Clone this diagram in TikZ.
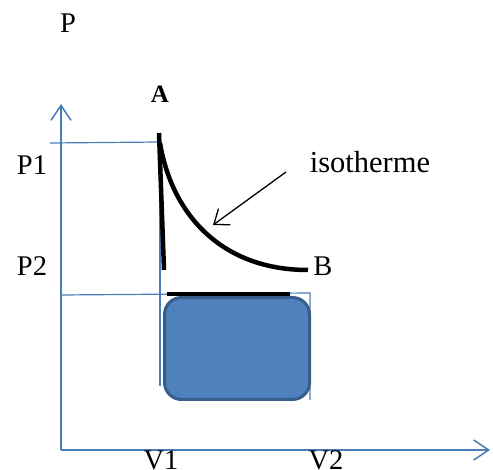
\documentclass[tikz,border=0pt]{standalone}
\usepackage{fontspec}
\setmainfont{Liberation Serif}
\usetikzlibrary{arrows.meta}
\definecolor{axblue}{HTML}{4A7EBB}
\definecolor{boxfill}{HTML}{4F81BD}
\definecolor{boxline}{HTML}{385D8A}
\tikzset{
  axis/.style={draw=axblue, line width=1.5pt},
  guide/.style={draw=axblue, line width=1.2pt},
  thick black/.style={draw=black, line width=4.5pt},
  lbl/.style={inner sep=0pt, font=\fontsize{28.5}{31}\selectfont},
  openhead/.style={-{Straight Barb[length=15pt,width=20pt,line width=1.5pt]}}
}
\begin{document}
\begin{tikzpicture}[x=1pt,y=-1pt]
\useasboundingbox (0,0) rectangle (493,470);
% coordinates
\coordinate (O) at (61,450);
\coordinate (Ytop) at (61,104);
\coordinate (Xend) at (490,450);
\coordinate (P1l) at (50,143);
\coordinate (P1r) at (160,142);
\coordinate (V1t) at (160,133);
\coordinate (V1b) at (160,386);
\coordinate (P2l) at (61,295);
\coordinate (P2r) at (310,293);
\coordinate (V2b) at (310,400);
\coordinate (Atop) at (159,133);
\coordinate (Abot) at (164,270);
\coordinate (Cs) at (160,143);
\coordinate (Ce) at (308,270);
\coordinate (Hl) at (167,294);
\coordinate (Hr) at (290,294);
\coordinate (Ar1) at (286,172);
\coordinate (Ar2) at (213,225);
% axes
\draw[axis, openhead] (O) -- (Ytop);
\draw[axis, openhead] (O) -- (Xend);
% guides
\draw[guide] (P1l) -- (P1r);
\draw[guide] (V1t) -- (V1b);
\draw[guide] (P2l) -- (P2r) -- (V2b);
% box
\node[draw=boxline, fill=boxfill, line width=3pt, rounded corners=17pt,
      minimum width=145pt, minimum height=102pt, inner sep=0pt] (box) at (237,348.5) {};
% thick lines
\draw[thick black, line cap=butt] (Atop) -- (Abot);
\draw[line width=4.5pt] (Cs) .. controls (172,215) and (222,270) .. (Ce);
\draw[thick black] (Hl) -- (Hr);
% arrow
\draw[line width=1.3pt, -{Straight Barb[length=13pt,width=20pt,line width=1.3pt]}] (Ar1) -- (Ar2);
% labels
\node[lbl] (lP) at (68,23) {P};
\node[lbl, font=\fontsize{25}{28}\selectfont\bfseries] (lA) at (160,94) {A};
\node[lbl] (lP1) at (32,165) {P1};
\node[lbl] (lP2) at (32,266) {P2};
\node[lbl, anchor=base, font=\fontsize{30.5}{33}\selectfont] (liso) at (370,173) {isotherme};
\node[lbl] (lB) at (323,266) {B};
\node[lbl, anchor=base] (lV1) at (161,469) {V1};
\node[lbl, anchor=base] (lV2) at (326,469) {V2};
\end{tikzpicture}
\end{document}
